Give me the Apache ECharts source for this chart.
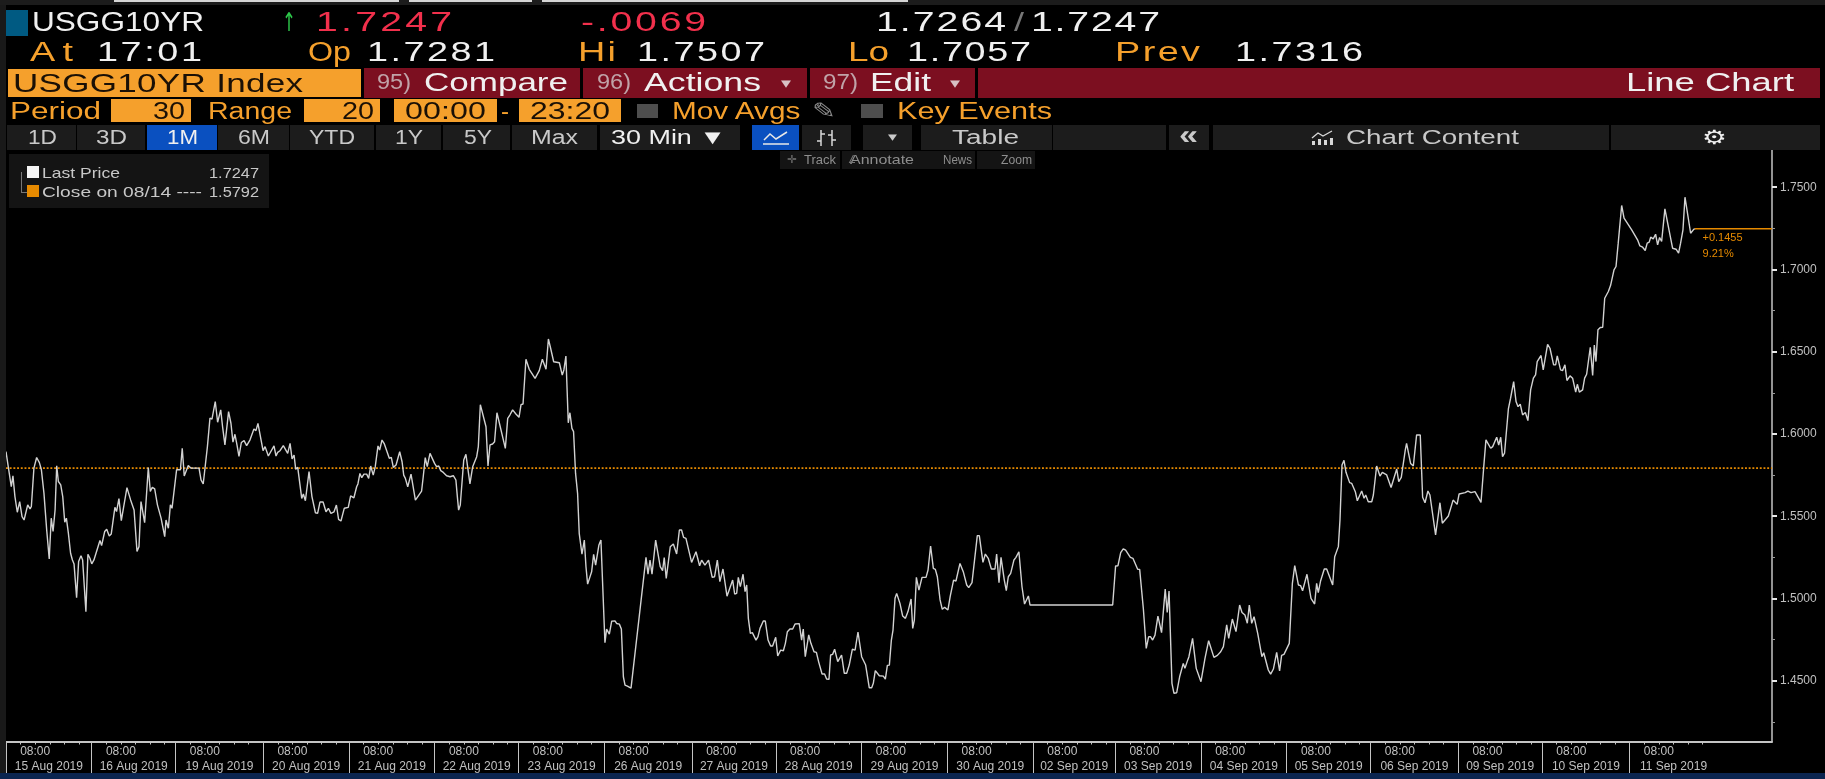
<!DOCTYPE html>
<html>
<head>
<meta charset="utf-8">
<title>USGG10YR Index</title>
<script src="https://cdn.jsdelivr.net/npm/echarts@6/dist/echarts.min.js"></script>
<style>
  html, body { margin: 0; padding: 0; background: #000; overflow: hidden; }
  #main { position: absolute; left: 0; top: 0; width: 1825px; height: 779px; }
  #chrome { position: absolute; left: 0; top: 0; width: 1825px; height: 779px; pointer-events: none; }
  #chrome div, #chrome span, #chrome svg { position: absolute; white-space: nowrap; }
</style>
</head>
<body>
<div id="main"></div>
<div id="chrome"></div>
<script>
// x is the bar number (30 min bars, sessions laid end to end), y the yield
const days = ["15 Aug 2019", "16 Aug 2019", "19 Aug 2019", "20 Aug 2019", "21 Aug 2019", "22 Aug 2019", "23 Aug 2019",
  "26 Aug 2019", "27 Aug 2019", "28 Aug 2019", "29 Aug 2019", "30 Aug 2019", "02 Sep 2019", "03 Sep 2019",
  "04 Sep 2019", "05 Sep 2019", "06 Sep 2019", "09 Sep 2019", "10 Sep 2019", "11 Sep 2019"];
const barsPerDay = [47, 46, 48, 47, 47, 46, 47, 48, 46, 47, 47, 47, 45, 47, 47, 46, 48, 46, 48, 47];
const yTicks = [1.45, 1.5, 1.55, 1.6, 1.65, 1.7, 1.75];
const yMinorTicks = [1.425, 1.475, 1.525, 1.575, 1.625, 1.675, 1.725];
const closeOn0814 = 1.5792;
const lastPrice = 1.7247;

const stretch1 = [[0,1.5893],[1.5,1.5782],[2.9,1.568],[3.8,1.5745],[4.9,1.5619],[6.2,1.5524],[7.5,1.5589],[8.8,1.5498],[9.9,1.5477],[10.8,1.5488],[11.9,1.5569],[13.2,1.5544],[13.9,1.5559],[15.3,1.5792],[16.8,1.5857],[18.3,1.5826],[19.4,1.5782],[20.8,1.564],[22.3,1.5417],[23.7,1.524],[24.8,1.5488],[25.8,1.5407],[26.9,1.5538],[27.8,1.5806],[28.7,1.5711],[30,1.569],[31.1,1.5619],[32.2,1.5463],[33.1,1.5488],[34.2,1.5396],[35.4,1.5275],[36.4,1.5234],[37.3,1.521],[38.7,1.5005],[39.8,1.5224],[41.1,1.5259],[42,1.5234],[43.8,1.492],[44.9,1.5269],[46,1.5244],[47,1.521],[48.2,1.5234],[49.1,1.524],[51.5,1.5352],[52.4,1.5321],[54.1,1.5407],[55.2,1.5421],[56.6,1.538],[57.7,1.5392],[59.7,1.5554],[60.6,1.5528],[61.9,1.5607],[63.2,1.5473],[64.1,1.5461],[66.3,1.5674],[68.3,1.5599],[70.2,1.5538],[71.8,1.5285],[72.9,1.5315],[74,1.5589],[76,1.5461],[78,1.5796],[79.1,1.565],[80.2,1.5676],[81.5,1.5666],[83,1.5569],[83.7,1.5559],[85,1.5488],[85.7,1.5477],[87,1.5376],[87.7,1.5477],[89,1.5427],[90.1,1.5569],[91,1.5548],[93.5,1.5782],[94.3,1.5792],[95.6,1.5782],[96.6,1.5913],[97.7,1.5745],[99.9,1.5808],[101.4,1.5792],[105.8,1.5792],[106.9,1.5721],[108.1,1.5696],[110.4,1.5923],[111.8,1.6096],[112.9,1.609],[114.7,1.6197],[116,1.6071],[117.7,1.6146],[118.7,1.6045],[120,1.5934],[122,1.6136],[123.3,1.6065],[124.4,1.595],[125.5,1.5998],[126.6,1.5934],[127.7,1.5863],[129,1.5948]];
const stretch2 = [[130.5,1.5959],[131.9,1.5929],[133.7,1.5963],[135.9,1.603],[137,1.602],[138.1,1.6064],[140.9,1.5898],[142,1.5923],[143.8,1.5866],[146.9,1.5927],[148,1.5866],[148.9,1.5888],[150.2,1.5898],[152,1.5929],[154.4,1.5882],[155.7,1.5943],[156.8,1.5848],[157.9,1.5872],[158.8,1.5785],[159.9,1.5797],[162.1,1.5608],[163,1.5635],[164.1,1.5594],[166.1,1.5771],[167.7,1.5619],[169.6,1.5521],[170.8,1.5517],[172.1,1.5586],[173.8,1.5586],[175.4,1.5527],[176.7,1.5548],[178.1,1.5517],[179.8,1.5527],[181.1,1.5568],[182.3,1.5481],[183.6,1.5471],[185.4,1.5548],[187.6,1.5554],[188.9,1.5623],[190.7,1.5612],[192.2,1.5679],[192.9,1.5696],[194,1.576],[195,1.5734],[196.2,1.5756],[197.7,1.5756],[198.8,1.573],[199.9,1.5805],[201.3,1.575],[202.4,1.5801],[203.9,1.5927],[204.8,1.5902],[206.1,1.5963],[207.4,1.5939],[210.1,1.5852],[211.2,1.5858],[212.3,1.5797],[213.8,1.5811],[215.8,1.5892],[217.1,1.5831],[218,1.575],[218.9,1.573],[220.2,1.5679],[222,1.5756],[224.4,1.5598],[225.3,1.5592],[227.8,1.5653],[228.7,1.574],[229.8,1.5856],[230.9,1.5801],[232.4,1.5882],[233.1,1.5892],[234.9,1.5821],[236,1.5801],[237.2,1.5805],[238.3,1.5777],[239.7,1.5766],[241.5,1.5746],[243.4,1.574],[245.2,1.5746],[246.6,1.572],[247.4,1.5619],[248.1,1.5537],[249,1.5568],[250.9,1.5841],[252.1,1.5876],[254.3,1.5696],[255.8,1.5801],[258,1.5862],[258.9,1.5923],[260,1.6178],[260.7,1.6178],[263.1,1.6044],[264.2,1.5805]];
const stretch3 = [[265.3,1.5933],[266.7,1.5939],[267.8,1.5953],[269.1,1.6129],[273.7,1.5912],[275,1.6095],[276.2,1.6115],[277.7,1.6146],[279.5,1.6121],[281.2,1.6101],[282.3,1.6178],[283.4,1.6182],[285,1.6454],[286.8,1.6393],[290,1.6338],[292.3,1.6385],[293.1,1.6389],[294,1.6454],[296,1.6393],[297.3,1.6577],[298.4,1.6527],[299.3,1.6521],[300.2,1.6439],[303.3,1.6433],[304.9,1.6358],[305.8,1.6389],[306.9,1.6474],[308.2,1.6068],[309.1,1.6129],[310.2,1.6034],[311.1,1.6014],[312.2,1.576],[313.3,1.5639],[314.2,1.5396],[315.7,1.527],[317,1.5355],[317.9,1.5193],[318.8,1.5087],[321,1.5162],[322.1,1.5268],[323.2,1.5203],[323.9,1.5207],[325,1.5325],[326.1,1.5355],[328.3,1.4731],[329.2,1.4814],[330.7,1.4783],[332,1.4862],[333.8,1.4864],[334.7,1.4848],[336.2,1.4844],[337.3,1.4814],[338.4,1.4524],[339.3,1.4473],[340.6,1.4467],[341.5,1.4455],[342.6,1.4455],[350.8,1.525],[351.9,1.5148],[353,1.5233],[354.1,1.5148],[356.1,1.5355],[358.6,1.5193],[359.9,1.5169],[360.8,1.5248],[361.9,1.5122],[364.1,1.5314],[365.8,1.5331],[367.6,1.527],[369.1,1.5416],[370.3,1.5416],[371.4,1.5371],[372.7,1.5365],[375.8,1.5219],[378.2,1.5284],[379.1,1.5284],[380.2,1.5199],[381.3,1.5233],[382.2,1.5233],[383.1,1.5203],[385.1,1.5233],[387.1,1.5128],[388.4,1.5132],[389.9,1.5233],[391.3,1.5102],[392.1,1.5102],[393,1.5179],[395.2,1.5014]];
const stretch4 = [[396.1,1.5015],[398.3,1.5112],[399.4,1.5027],[400.5,1.5031],[401.4,1.5128],[402.5,1.5072],[404,1.5147],[405.1,1.5041],[406,1.5082],[406.9,1.4879],[408,1.4788],[409.1,1.4792],[411.1,1.4747],[412.2,1.4768],[413.3,1.4818],[415.1,1.4863],[416.2,1.4863],[417.7,1.4747],[419.1,1.4711],[420.2,1.4711],[421.9,1.4764],[423,1.465],[424.6,1.4686],[426.1,1.4682],[427.2,1.4727],[428.3,1.4798],[429.7,1.4814],[431.2,1.4814],[432.5,1.4845],[434.8,1.4847],[436.1,1.4747],[437,1.4814],[438.1,1.4646],[440,1.4778],[441.2,1.4727],[442.9,1.4676],[444.2,1.4672],[445.4,1.4616],[447.3,1.4541],[448.7,1.4541],[449.8,1.451],[451.1,1.4508],[452,1.4656],[453.1,1.466],[454.2,1.4691],[455.9,1.4616],[458,1.4656],[459.5,1.4545],[460.8,1.4545],[462.2,1.4595],[463.9,1.4691],[465.4,1.4686],[467,1.4796],[469,1.4646],[471.2,1.4595],[473.2,1.4457],[474.5,1.4457],[475.4,1.4484],[476.5,1.4561],[478.7,1.453],[480.9,1.4528],[482,1.451],[483.1,1.4593],[484.2,1.4595],[485.3,1.4747],[486.2,1.4808],[487.3,1.5001],[488.2,1.5031],[490,1.497],[491.5,1.4893],[493,1.4879],[494.4,1.492],[496.1,1.4997],[497,1.4818],[497.9,1.4869],[499,1.5128],[500.4,1.5051],[502.1,1.5128],[504.3,1.5128],[505.4,1.5173],[506.8,1.5319],[508.3,1.5183],[509.4,1.5177],[510.5,1.5132],[512,1.4991],[513.2,1.4934],[514.5,1.4946],[516.3,1.493],[517.6,1.5015],[518.3,1.5015],[519.4,1.5112],[520.7,1.5106],[522.9,1.5213],[524.7,1.5163],[526.6,1.5082],[527.7,1.5066]];
const stretch5 = [[528.4,1.5067],[529.5,1.5096],[530.4,1.5086],[532.4,1.5382],[533.5,1.5382],[535.5,1.5219],[536.8,1.527],[538.4,1.5244],[540.1,1.5179],[542.1,1.5179],[543,1.527],[544.3,1.5096],[545.4,1.525],[547.2,1.5112],[548.3,1.5047],[549.4,1.5132],[550.7,1.5152],[552.5,1.5234],[553.6,1.525],[554.3,1.524],[555.2,1.5284],[556.9,1.5071],[558.3,1.4966],[560.4,1.5015],[561.3,1.496],[606.6,1.496],[608.2,1.5197],[609.5,1.5199],[611,1.5278],[612.4,1.5302],[613.7,1.5294],[616.3,1.525],[617.7,1.5244],[620.3,1.5177],[621.4,1.5177],[623.4,1.494],[625,1.4696],[626.3,1.4767],[627.4,1.4767],[628.5,1.4747],[629.8,1.4777],[631.4,1.4893],[632.3,1.4893],[633.4,1.4792],[635.4,1.5057],[636.5,1.4915],[637.5,1.5045],[639.1,1.4484],[640.2,1.4423],[641.7,1.4427],[643.3,1.4524],[644.2,1.4524],[645.3,1.4605],[646.2,1.4575],[647.7,1.4625],[648.4,1.4646],[650.4,1.4757],[652.4,1.4575],[655,1.4494],[657.2,1.4636],[659.2,1.4743]];
const stretch6 = [[662.1,1.4642],[664,1.4654],[665.8,1.4676],[667.3,1.4707],[669.1,1.484],[670.2,1.4757],[672.2,1.4875],[674.2,1.4798],[676.2,1.496],[677.5,1.4915],[679.1,1.4899],[680.4,1.4849],[681.5,1.496],[682.8,1.4849],[684.1,1.4889],[686.1,1.4788],[688.4,1.4646],[689.4,1.467],[691.9,1.4565],[693.2,1.454],[694.7,1.4571],[695.6,1.4571],[696.5,1.4672],[698.1,1.4559],[699.2,1.4654],[700.5,1.466],[703.4,1.4727],[705.1,1.5092],[706.4,1.5199],[708.4,1.5082],[709.6,1.5078],[710.7,1.5047],[713.1,1.5147],[715.3,1.5001],[716.2,1.5001],[717.3,1.4966],[718.4,1.5092],[719.3,1.5035],[720.6,1.5108],[721.5,1.5102],[722.6,1.5179],[723.9,1.5179],[727.2,1.5082],[728.3,1.5254],[729,1.5258],[730.3,1.5315],[731.2,1.5477],[732.3,1.5811],[733.4,1.584],[734.5,1.5767],[735.4,1.5771],[736.5,1.5704],[737.6,1.57],[739.6,1.5649],[740.7,1.5594],[743.1,1.5653],[744.4,1.5609],[745.3,1.5629],[746.7,1.5588],[748.6,1.5588],[749.5,1.5629],[751.3,1.5805],[753.1,1.5744],[754.4,1.5767],[756.8,1.5751],[759.2,1.5674],[762.3,1.5787],[763.4,1.571],[764.8,1.5736],[765.7,1.574],[767,1.5903],[767.7,1.5943],[768.5,1.5943],[769.9,1.5821],[771.4,1.5805],[773.2,1.5994],[775.2,1.5994],[776.5,1.5615],[777.8,1.5582],[778.7,1.5582],[779.4,1.5653],[780.5,1.5629],[783.6,1.5386],[786,1.5582],[787.3,1.5457],[790.6,1.5501]];
const stretch7 = [[793.2,1.5598],[795.4,1.5572],[796.5,1.5635],[799.8,1.5643],[801.3,1.5653],[803,1.5643],[805.2,1.5649],[808.5,1.5584],[810,1.5801],[811.2,1.5964],[813.8,1.5913],[814.9,1.5923],[817.1,1.598],[818.2,1.5933],[819.3,1.598],[820.3,1.5862],[821.4,1.5883],[822.5,1.6025],[823.5,1.6152],[824.7,1.6217],[826.4,1.6318],[827.7,1.6197],[828.8,1.6166],[830,1.6181],[831.3,1.6116],[832.8,1.613],[834.2,1.6081],[835.7,1.6268],[837.2,1.6339],[838.4,1.6359],[839.3,1.644],[841.4,1.6477],[842.6,1.6389],[845,1.6545],[846.3,1.6521],[848.3,1.642],[849.4,1.642],[850.3,1.6475],[852.1,1.6389],[853.2,1.6385],[854.5,1.642],[855.6,1.6325],[857.3,1.6353],[858.7,1.6339],[860.4,1.6254],[861.3,1.6302],[862.4,1.6254],[864.2,1.6268],[865.3,1.6339],[866.4,1.6363],[868.4,1.6527],[869.7,1.6355],[870.6,1.6541],[871.5,1.644],[872.6,1.6633],[873.9,1.6647],[875.2,1.6649],[876.3,1.6825],[878.3,1.6866],[879.5,1.6902],[880.5,1.6906],[881.4,1.6997],[882.5,1.7018],[883.7,1.716],[885.6,1.7389],[886.9,1.7312],[891.1,1.7241],[894.3,1.718],[895.6,1.7143],[897.1,1.7135],[898.5,1.7115],[899.6,1.716],[900.7,1.7166],[901.5,1.7196],[902.9,1.7186],[904.2,1.7214],[905.3,1.715],[906.4,1.7194],[907.5,1.717],[909.3,1.7368],[911.7,1.7231],[913.5,1.7129],[915.4,1.7123],[916.8,1.7099],[917.9,1.716],[919.2,1.7241],[920.3,1.7439],[921.2,1.7429],[923.4,1.722],[925.2,1.7245],[925.8,1.7247]];

const lastPath = [].concat(stretch1, stretch2, stretch3, stretch4, stretch5, stretch6, stretch7);
const xEnd = 968; // right hand side of the plot, in bars
const yMin = 1.41304, yMax = 1.77322;
const lastBar = lastPath[lastPath.length - 1][0];

// day start, 08:00 and 4 hourly positions all come from the bars per day
const dayStarts = [], dayCenters = [], eightAm = [], hourTicks = [];
barsPerDay.reduce((start, n, i) => {
  dayStarts.push(start);
  dayCenters.push(i === days.length - 1 ? start + 24 : start + n / 2);
  eightAm.push(start + 16);
  for (let h = 8; h < n; h += 8) hourTicks.push(start + h);
  return start + n;
}, 0);

const axisGray = "#c4c4c4";
const labelGray = "#c0c0c0";
const sans = "'Liberation Sans', sans-serif";
const orange = "#e68a00";

const myChart = echarts.init(document.getElementById("main"));
myChart.setOption({
  backgroundColor: "#000",
  animation: false,
  grid: { left: 6, right: 53, top: 149, bottom: 37.5 },
  xAxis: [
    {
      type: "value", min: 0, max: xEnd, position: "bottom", splitLine: { show: false },
      axisLine: { onZero: false, lineStyle: { color: axisGray, width: 2 } },
      axisTick: { customValues: hourTicks, length: 3, lineStyle: { color: axisGray } },
      axisLabel: {
        customValues: eightAm, margin: 4, color: labelGray, fontFamily: sans, fontSize: 12,
        formatter: () => "08:00",
      },
    },
    {
      type: "value", min: 0, max: xEnd, position: "bottom", splitLine: { show: false },
      axisLine: { show: false, onZero: false },
      axisTick: { customValues: dayStarts, length: 32, lineStyle: { color: axisGray } },
      axisLabel: {
        customValues: dayCenters, margin: 19, color: labelGray, fontFamily: sans, fontSize: 12,
        formatter: (value) => days[dayCenters.indexOf(value)],
      },
    },
  ],
  yAxis: [
    {
      type: "value", min: yMin, max: yMax, position: "right", splitLine: { show: false },
      axisLine: { onZero: false, lineStyle: { color: axisGray, width: 1.5 } },
      axisTick: { customValues: yTicks, length: 5, lineStyle: { color: "#e8e8e8", width: 2 } },
      axisLabel: {
        customValues: yTicks, margin: 8, color: labelGray, fontFamily: sans, fontSize: 12,
        formatter: (value) => value.toFixed(4),
      },
    },
    {
      type: "value", min: yMin, max: yMax, position: "right", splitLine: { show: false },
      axisLine: { show: false, onZero: false },
      axisTick: { customValues: yMinorTicks, length: 3, lineStyle: { color: "#9a9a9a" } },
      axisLabel: { show: false },
    },
  ],
  series: [
    {
      name: "Close on 08/14", type: "line", symbol: "none", silent: true, z: 2,
      data: [[0, closeOn0814], [xEnd, closeOn0814]],
      lineStyle: { color: orange, width: 1.8, type: [1.9, 1.8] },
    },
    {
      name: "Last Price", type: "line", symbol: "none", silent: true, z: 3,
      data: lastPath,
      lineStyle: { color: "#d2d2d2", width: 1.4 },
    },
    {
      name: "Last level", type: "line", symbol: "none", silent: true, z: 2,
      data: [[lastBar, lastPrice], [xEnd, lastPrice]],
      lineStyle: { color: orange, width: 1.4 },
      markPoint: {
        symbol: "circle", symbolSize: 1, itemStyle: { color: orange },
        data: [{ coord: [lastBar, lastPrice] }],
        label: {
          show: true, position: "right", distance: 7, offset: [0, 17],
          formatter: "+0.1455\n9.21%", align: "left",
          color: orange, fontFamily: sans, fontSize: 11, lineHeight: 16,
        },
      },
    },
  ],
});
window.addEventListener("resize", () => {
  myChart.resize();
});

// Terminal header around the chart: plain boxes and fitted texts
const chrome = document.getElementById("chrome");
const fit = document.createElement("canvas").getContext("2d");

function box(x0, x1, y0, y1, color) {
  const d = document.createElement("div");
  d.style.cssText = `left:${x0}px;top:${y0}px;width:${x1 - x0}px;height:${y1 - y0}px;background:${color}`;
  chrome.appendChild(d);
}

// the reference is a stretched screenshot: widen the glyphs, then letter space the rest to span x0..x1
function text(str, x0, x1, yc, size, color, family, weight) {
  const font = family || sans;
  fit.font = `${weight || "normal"} ${size}px ${font}`;
  const w = fit.measureText(str).width;
  const k = Math.max(0.6, Math.min((x1 - x0) / w, 1.4));
  const ls = (x1 - x0 - w * k) / k / Math.max(str.length - 1, 1);
  const d = document.createElement("span");
  d.textContent = str;
  d.style.cssText = `left:${x0}px;top:${yc - size}px;line-height:${size * 2}px;font-size:${size}px;` +
    `font-family:${font};font-weight:${weight || "normal"};color:${color};letter-spacing:${ls}px;` +
    `transform:scaleX(${k});transform-origin:left center`;
  chrome.appendChild(d);
}

const red = "#f2304c", white = "#f0f0f0", amber = "#f5a02c", ink = "#1a1006", dim = "#c9c9c9", btn = "#1c1c1c";
const dejavu = "'DejaVu Sans'";

// left strip, top sliver, bottom strip
box(0, 6, 0, 773, "#191919");
box(0, 1825, 0, 5, "#1c1c1c");
box(114, 399, 0, 2, "#d5d5d5");
box(409, 532, 0, 2, "#d5d5d5");
box(542, 908, 0, 2, "#d5d5d5");
box(0, 1825, 773, 779, "#0b2550");

// row 1
box(6, 28, 10, 36, "#005a82");
text("USGG10YR", 32, 204, 22, 27, white);
text("↑", 282, 296, 22, 26, "#2dc84a", dejavu);
text("1.7247", 316, 452, 22, 28, red);
text("-.0069", 581, 706, 22, 28, red);
text("1.7264", 876, 1006, 22, 28, white);
text("/", 1014, 1024, 22, 26, "#777");
text("1.7247", 1031, 1160, 22, 28, white);

// row 2
text("At", 30, 73, 52, 27, amber);
text("17:01", 97, 202, 52, 27, white);
text("Op", 308, 351, 52, 27, amber);
text("1.7281", 367, 495, 52, 27, white);
text("Hi", 578, 616, 52, 27, amber);
text("1.7507", 637, 765, 52, 27, white);
text("Lo", 848, 889, 52, 27, amber);
text("1.7057", 907, 1031, 52, 27, white);
text("Prev", 1115, 1200, 52, 27, amber);
text("1.7316", 1235, 1363, 52, 27, white);

// row 3
box(8, 361, 69, 97, amber);
text("USGG10YR Index", 13, 303, 83, 25, ink);
box(364, 580, 68, 98, "#7c0f20");
box(583, 807, 68, 98, "#7c0f20");
box(810, 975, 68, 98, "#7c0f20");
box(978, 1820, 68, 98, "#7c0f20");
text("95)", 377, 411, 82, 22, "#c0a3a8");
text("Compare", 424, 568, 82, 26, white);
text("96)", 597, 631, 82, 22, "#c0a3a8");
text("Actions", 644, 761, 82, 26, white);
text("▾", 781, 791, 83, 15, "#d8c0c4", dejavu);
text("97)", 823, 858, 82, 22, "#c0a3a8");
text("Edit", 870, 931, 82, 26, white);
text("▾", 950, 960, 83, 15, "#d8c0c4", dejavu);
text("Line Chart", 1626, 1794, 82, 26, white);

// row 4
text("Period", 10, 101, 111, 23, amber);
box(111, 191, 99, 122, amber);
text("30", 153, 185, 111, 23, ink);
text("Range", 208, 292, 111, 23, amber);
box(304, 380, 99, 122, amber);
text("20", 342, 374, 111, 23, ink);
box(394, 497, 99, 122, amber);
text("00:00", 405, 486, 111, 23, ink);
text("-", 501, 509, 111, 23, amber);
box(519, 621, 99, 122, amber);
text("23:20", 530, 610, 111, 23, ink);
box(637, 658, 104, 118, "#4e4e4e");
text("Mov Avgs", 672, 802, 111, 23, amber);
text("✎", 812, 836, 111, 22, "#8a8a8a", dejavu);
box(861, 883, 104, 118, "#4e4e4e");
text("Key Events", 897, 1052, 111, 23, amber);

// row 5 buttons
[[7, 76], [77, 145], [147, 217, "#0a50c0"], [218, 289], [290, 374], [376, 441], [443, 510], [512, 597], [600, 740],
  [752, 799, "#0a50c0"], [802, 851], [863, 912], [921, 1052], [1053, 1166], [1169, 1209], [1213, 1609], [1611, 1820]]
  .forEach(([x0, x1, bg]) => box(x0, x1, 125, 150, bg || btn));
text("1D", 28, 57, 137, 20, dim);
text("3D", 96, 127, 137, 20, dim);
text("1M", 167, 198, 137, 20, white);
text("6M", 238, 270, 137, 20, dim);
text("YTD", 309, 355, 137, 20, dim);
text("1Y", 395, 423, 137, 20, dim);
text("5Y", 464, 492, 137, 20, dim);
text("Max", 531, 578, 137, 20, dim);
text("30 Min ▼", 611, 726, 137, 20, white);
text("▾", 888, 897, 137, 13, dim, dejavu);
text("Table", 952, 1019, 137, 20, dim);
text("«", 1179, 1198, 135, 28, dim, sans, "bold");
text("Chart Content", 1346, 1519, 137, 20, dim);
text("⚙", 1702, 1727, 137, 20, white, dejavu);

// small icons in the button row
chrome.insertAdjacentHTML("beforeend", `
  <svg style="left:762px;top:129px" width="28" height="18" fill="none" stroke="#e8e8e8" stroke-width="1.5">
    <polyline points="2,11 8,5 14,10 25,3"/><line x1="1" y1="15" x2="27" y2="15"/></svg>
  <svg style="left:814px;top:129px" width="26" height="18" fill="none" stroke="#d8d8d8" stroke-width="1.5">
    <line x1="7" y1="1" x2="7" y2="17"/><line x1="3" y1="12" x2="7" y2="12"/><line x1="7" y1="5" x2="11" y2="5"/>
    <line x1="18" y1="1" x2="18" y2="17"/><line x1="14" y1="6" x2="18" y2="6"/><line x1="18" y1="11" x2="22" y2="11"/></svg>
  <svg style="left:1310px;top:130px" width="26" height="16" fill="none" stroke="#d8d8d8" stroke-width="1.3">
    <polyline points="2,8 8,3 13,6 22,1"/>
    <g fill="#d8d8d8" stroke="none"><rect x="2" y="11" width="3" height="4"/><rect x="8" y="9" width="3" height="6"/>
    <rect x="14" y="10" width="3" height="5"/><rect x="20" y="8" width="3" height="7"/></g></svg>`);

// annotation toolbar
[[780, 840], [842, 918], [918, 975], [977, 1035]].forEach(([x0, x1]) => box(x0, x1, 151, 169, "#141414"));
text("Track", 804, 836, 160, 13, "#8e8e8e");
text("Annotate", 850, 914, 160, 13, "#8e8e8e");
text("News", 943, 972, 160, 13, "#8e8e8e");
text("Zoom", 1001, 1032, 160, 13, "#8e8e8e");
text("✛", 787, 797, 160, 11, "#777", dejavu);
text("∠", 848, 856, 160, 11, "#777", dejavu);

// legend box
box(9, 269, 154, 208, "#141414");
box(27, 39, 166, 178, "#f4f4f4");
box(27, 39, 185, 197, "#e68a00");
box(21, 22, 172, 192, "#777");
box(21, 27, 192, 193, "#777");
text("Last Price", 42, 120, 173, 15, "#c8c8c8");
text("1.7247", 209, 259, 173, 15, "#c8c8c8");
text("Close on 08/14 ----", 42, 202, 192, 15, "#c8c8c8");
text("1.5792", 209, 259, 192, 15, "#c8c8c8");
</script>
</body>
</html>
